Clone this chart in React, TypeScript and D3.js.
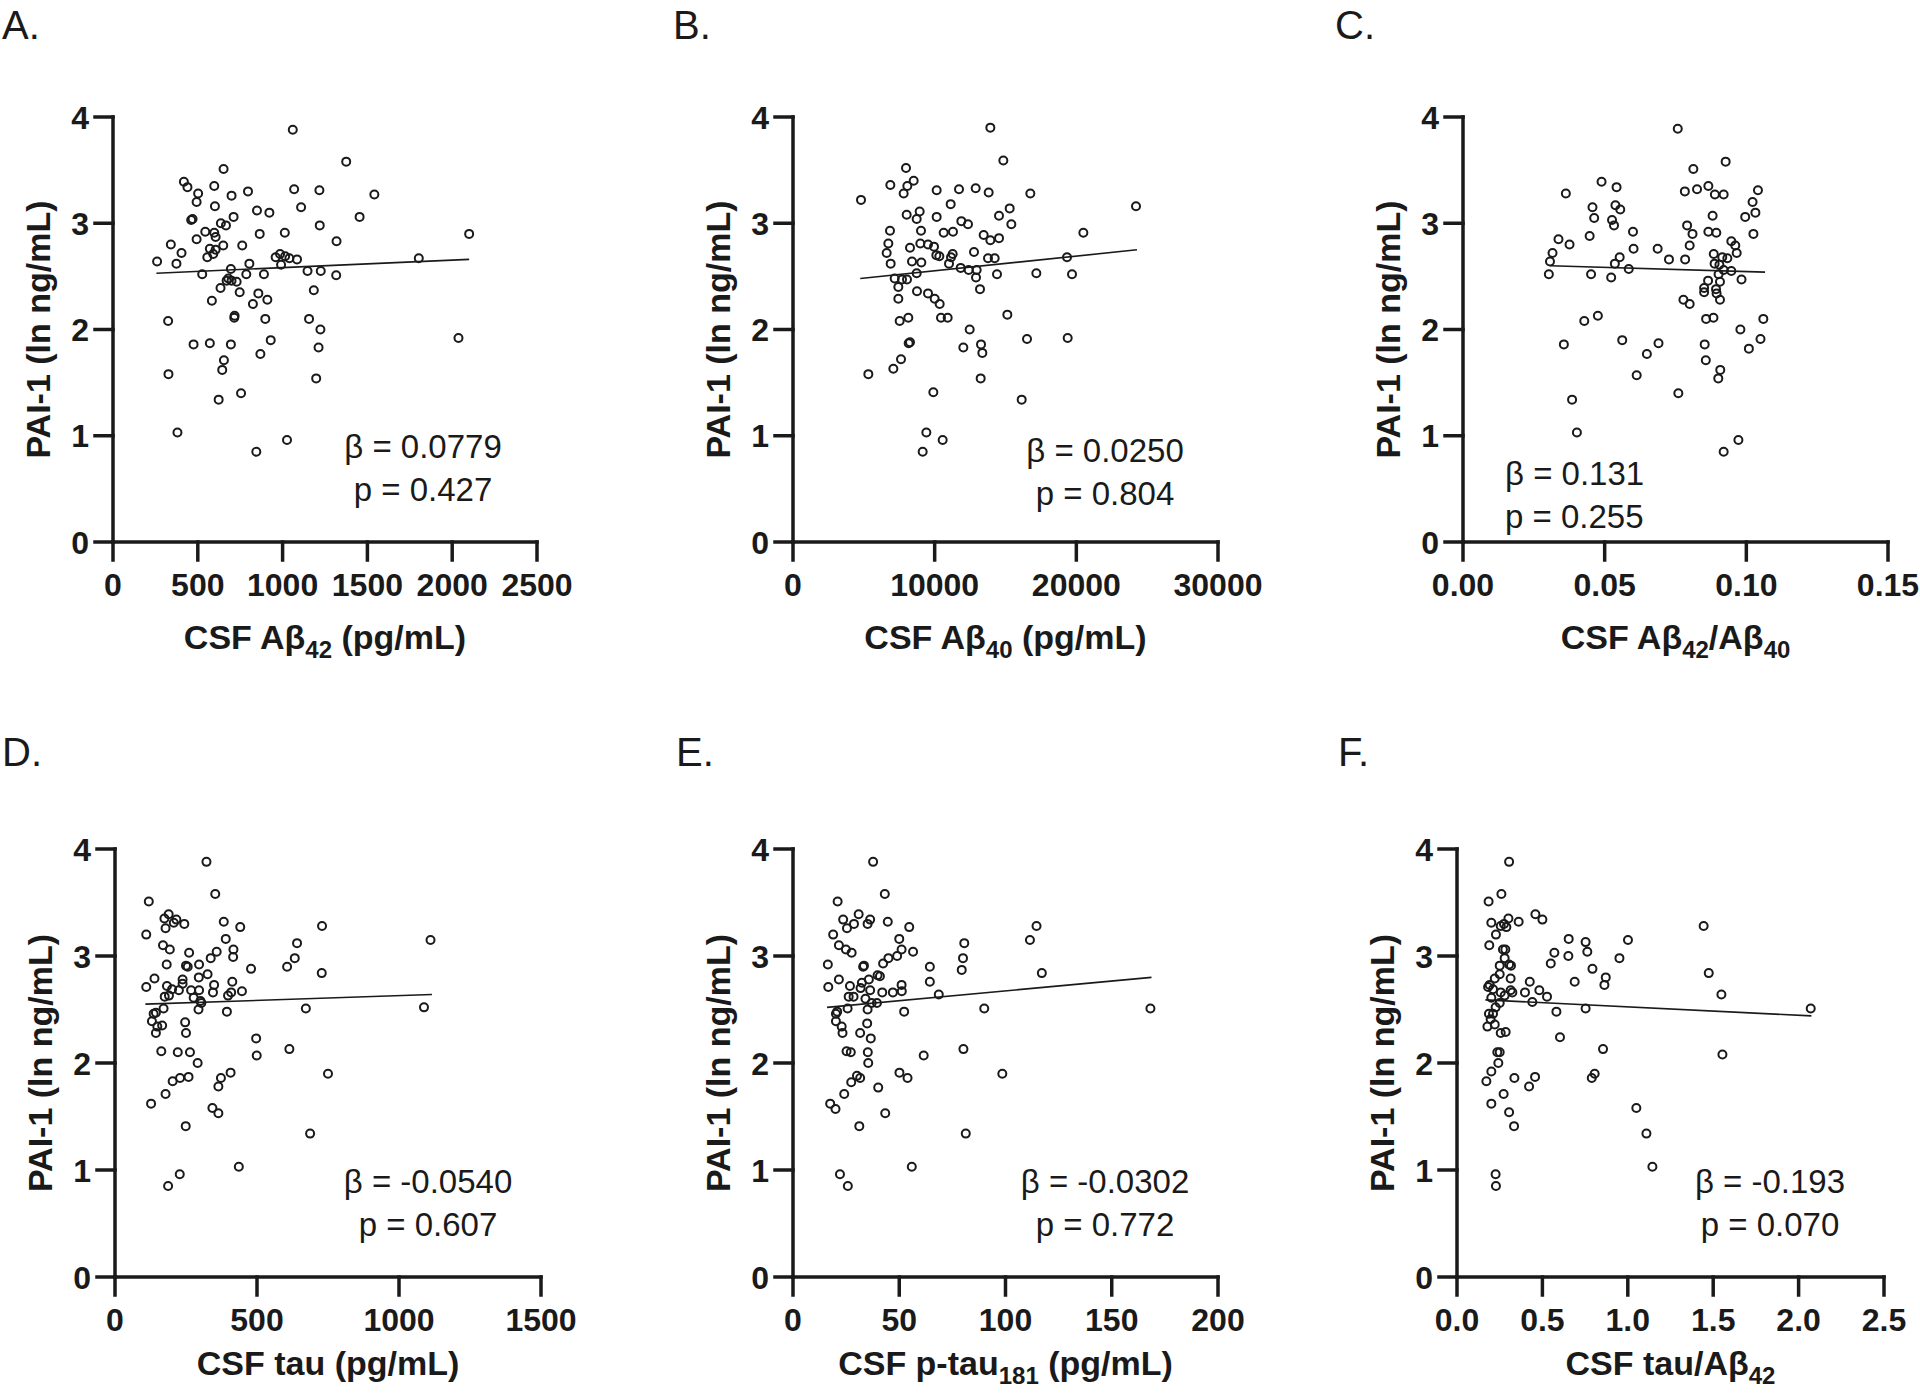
import React from 'react';
import * as d3 from 'd3';

const FONT = '"Liberation Sans", Arial, Helvetica, sans-serif';

// shared y axis: PAI-1 (ln ng/mL)
const pai1Ticks = [0, 1, 2, 3, 4];

// A. CSF Aβ42
const ab42Ticks = [0, 500, 1000, 1500, 2000, 2500];
const ab42X = [1060, 1375, 652, 418, 439, 597, 502, 796, 699, 1068,
  1217, 1541, 493, 601, 1109, 849, 922, 469, 461, 711,
  1454, 636, 666, 1219, 544, 597, 605, 865, 1013, 2100,
  493, 341, 571, 650, 762, 1318, 404, 605, 591, 556,
  959, 985, 1015, 1040, 1085, 1803, 260, 374, 804, 991,
  695, 526, 786, 890, 1147, 1225, 1316, 680, 699, 729,
  670, 634, 747, 857, 1184, 583, 910, 825, 325, 717,
  715, 898, 1156, 1223, 475, 571, 695, 930, 2037, 1212,
  869, 654, 644, 327, 1198, 755, 623, 380, 1026, 845];
const ab42Y = [3.88, 3.58, 3.51, 3.39, 3.34, 3.35, 3.28, 3.30, 3.26, 3.32,
  3.31, 3.27, 3.20, 3.16, 3.15, 3.12, 3.10, 3.04, 3.03, 3.06,
  3.06, 3.00, 2.98, 2.98, 2.92, 2.91, 2.87, 2.90, 2.91, 2.90,
  2.85, 2.80, 2.76, 2.79, 2.79, 2.83, 2.72, 2.75, 2.71, 2.68,
  2.68, 2.71, 2.69, 2.67, 2.66, 2.67, 2.64, 2.62, 2.62, 2.61,
  2.57, 2.52, 2.52, 2.52, 2.55, 2.55, 2.51, 2.48, 2.46, 2.45,
  2.46, 2.39, 2.35, 2.34, 2.37, 2.27, 2.28, 2.24, 2.08, 2.13,
  2.11, 2.10, 2.10, 2.00, 1.86, 1.87, 1.86, 1.90, 1.92, 1.83,
  1.77, 1.71, 1.62, 1.58, 1.54, 1.40, 1.34, 1.03, 0.96, 0.85];
const ab42Fit = [256, 2.53, 2100, 2.66];

// B. CSF Aβ40
const ab40Ticks = [0, 10000, 20000, 30000];
const ab40X = [13930, 14847, 7977, 8518, 6871, 8071, 7812, 10141, 11718, 12894,
  13812, 16753, 4800, 24212, 11130, 15295, 8941, 8024, 8730, 10141,
  14542, 11883, 12353, 15412, 6847, 9036, 10636, 11294, 20495, 13459,
  13930, 14542, 6730, 8988, 9530, 9953, 8259, 12777, 6612, 10118,
  10330, 11271, 11153, 8400, 9059, 6894, 11012, 13765, 14236, 19342,
  11836, 12400, 12965, 8730, 12918, 14400, 17177, 19695, 7177, 7694,
  8047, 7435, 13200, 8753, 9530, 10000, 10353, 7435, 15130, 8141,
  7530, 10447, 10918, 12471, 16518, 19389, 8165, 8259, 13271, 12024,
  13365, 7624, 7083, 5318, 13247, 9906, 16142, 9412, 10565, 9153];
const ab40Y = [3.90, 3.59, 3.52, 3.40, 3.36, 3.35, 3.28, 3.31, 3.32, 3.33,
  3.29, 3.28, 3.22, 3.16, 3.18, 3.14, 3.11, 3.08, 3.04, 3.06,
  3.07, 3.02, 2.99, 2.99, 2.93, 2.93, 2.91, 2.92, 2.91, 2.89,
  2.84, 2.86, 2.81, 2.81, 2.80, 2.78, 2.77, 2.73, 2.72, 2.70,
  2.69, 2.71, 2.68, 2.64, 2.63, 2.62, 2.62, 2.67, 2.67, 2.68,
  2.58, 2.56, 2.56, 2.53, 2.49, 2.52, 2.53, 2.52, 2.48, 2.47,
  2.47, 2.40, 2.38, 2.36, 2.34, 2.29, 2.24, 2.29, 2.14, 2.11,
  2.08, 2.11, 2.11, 2.00, 1.91, 1.92, 1.87, 1.88, 1.86, 1.83,
  1.78, 1.72, 1.63, 1.58, 1.54, 1.41, 1.34, 1.03, 0.96, 0.85];
const ab40Fit = [4750, 2.48, 24280, 2.75];

// C. CSF Aβ42/Aβ40
const ratioTicks = [0, 0.05, 0.1, 0.15];
const ratioX = [0.0758, 0.0927, 0.0813, 0.0489, 0.0542, 0.0363, 0.0783, 0.0826, 0.0866, 0.0889,
  0.0920, 0.1041, 0.1022, 0.0457, 0.0538, 0.0555, 0.1032, 0.0881, 0.0996, 0.0463,
  0.0526, 0.0533, 0.0791, 0.0600, 0.0866, 0.0894, 0.0810, 0.1025, 0.0447, 0.0337,
  0.0376, 0.0800, 0.0947, 0.0961, 0.0602, 0.0687, 0.0316, 0.0966, 0.0885, 0.0553,
  0.0727, 0.0784, 0.0915, 0.0933, 0.0307, 0.0536, 0.0888, 0.0905, 0.0585, 0.0920,
  0.0947, 0.0303, 0.0452, 0.0523, 0.0902, 0.0983, 0.0865, 0.0907, 0.0851, 0.0893,
  0.0851, 0.0895, 0.0907, 0.0778, 0.0800, 0.0476, 0.0428, 0.0858, 0.0884, 0.1060,
  0.0979, 0.0562, 0.0690, 0.0356, 0.0853, 0.1050, 0.1009, 0.0649, 0.0857, 0.0908,
  0.0901, 0.0613, 0.0760, 0.0385, 0.0402, 0.0972, 0.0920];
const ratioY = [3.89, 3.58, 3.51, 3.39, 3.34, 3.28, 3.30, 3.32, 3.35, 3.27,
  3.27, 3.31, 3.20, 3.15, 3.17, 3.13, 3.10, 3.07, 3.06, 3.05,
  3.03, 2.98, 2.98, 2.92, 2.92, 2.91, 2.90, 2.90, 2.88, 2.85,
  2.80, 2.79, 2.83, 2.79, 2.76, 2.76, 2.72, 2.72, 2.71, 2.68,
  2.66, 2.66, 2.68, 2.67, 2.64, 2.62, 2.62, 2.61, 2.57, 2.56,
  2.55, 2.52, 2.52, 2.49, 2.52, 2.47, 2.46, 2.45, 2.39, 2.38,
  2.35, 2.34, 2.28, 2.28, 2.24, 2.13, 2.08, 2.10, 2.11, 2.10,
  2.00, 1.90, 1.87, 1.86, 1.86, 1.91, 1.82, 1.77, 1.71, 1.62,
  1.54, 1.57, 1.40, 1.34, 1.03, 0.96, 0.85];
const ratioFit = [0.0308, 2.60, 0.1066, 2.54];

// D. CSF tau
const tauTicks = [0, 500, 1000, 1500];
const tauX = [322, 353, 119, 189, 174, 216, 207, 244, 178, 383,
  441, 729, 110, 390, 1111, 641, 169, 193, 417, 358,
  261, 416, 337, 633, 182, 250, 256, 296, 606, 479,
  326, 728, 295, 139, 238, 110, 183, 238, 349, 413,
  201, 225, 268, 296, 345, 447, 409, 398, 175, 190,
  277, 301, 304, 171, 294, 394, 672, 1088, 136, 144,
  130, 149, 166, 144, 247, 250, 497, 163, 221, 264,
  499, 614, 291, 407, 750, 203, 229, 259, 373, 364,
  178, 127, 343, 364, 249, 687, 436, 228, 187];
const tauY = [3.88, 3.58, 3.51, 3.39, 3.35, 3.34, 3.31, 3.30, 3.26, 3.32,
  3.27, 3.28, 3.20, 3.16, 3.15, 3.12, 3.10, 3.06, 3.06, 3.04,
  3.03, 2.99, 2.98, 2.98, 2.92, 2.91, 2.90, 2.92, 2.90, 2.88,
  2.83, 2.84, 2.80, 2.79, 2.78, 2.71, 2.72, 2.74, 2.73, 2.76,
  2.69, 2.68, 2.68, 2.68, 2.66, 2.67, 2.66, 2.63, 2.62, 2.63,
  2.61, 2.58, 2.56, 2.51, 2.50, 2.48, 2.51, 2.52, 2.46, 2.47,
  2.39, 2.34, 2.35, 2.28, 2.38, 2.28, 2.23, 2.11, 2.10, 2.10,
  2.07, 2.13, 2.00, 1.91, 1.90, 1.83, 1.86, 1.87, 1.86, 1.78,
  1.71, 1.62, 1.58, 1.53, 1.41, 1.34, 1.03, 0.96, 0.85];
const tauFit = [107, 2.55, 1116, 2.64];

// E. CSF p-tau181
const ptauTicks = [0, 50, 100, 150, 200];
const ptauX = [37.7, 43.2, 21.0, 30.9, 23.6, 28.7, 25.4, 35.1, 36.3, 44.6,
  54.7, 114.6, 18.9, 50.0, 111.5, 80.6, 21.6, 24.9, 27.6, 51.1,
  56.5, 44.9, 49.0, 80.0, 42.4, 16.4, 33.0, 33.4, 64.4, 79.4,
  39.8, 40.9, 117.1, 21.6, 35.7, 32.4, 64.4, 16.6, 26.8, 31.8,
  36.3, 51.1, 51.2, 47.0, 42.0, 68.6, 26.2, 28.5, 34.1, 37.0,
  39.5, 25.7, 35.1, 52.3, 90.0, 168.2, 20.2, 20.8, 20.2, 22.9,
  23.3, 34.9, 31.6, 36.6, 25.2, 27.2, 35.2, 61.5, 80.2, 35.4,
  50.1, 53.9, 98.5, 27.4, 30.1, 31.6, 40.1, 24.1, 17.5, 20.0,
  43.4, 31.2, 81.3, 55.9, 22.1, 25.8];
const ptauY = [3.88, 3.58, 3.51, 3.39, 3.34, 3.30, 3.26, 3.30, 3.34, 3.32,
  3.27, 3.28, 3.20, 3.16, 3.15, 3.12, 3.10, 3.06, 3.03, 3.06,
  3.04, 2.98, 3.00, 2.98, 2.93, 2.92, 2.90, 2.91, 2.90, 2.87,
  2.82, 2.81, 2.84, 2.78, 2.78, 2.75, 2.76, 2.71, 2.72, 2.70,
  2.68, 2.73, 2.67, 2.66, 2.66, 2.64, 2.62, 2.62, 2.60, 2.56,
  2.56, 2.51, 2.50, 2.48, 2.51, 2.51, 2.46, 2.48, 2.39, 2.34,
  2.28, 2.37, 2.28, 2.23, 2.11, 2.10, 2.10, 2.07, 2.13, 2.00,
  1.91, 1.86, 1.90, 1.82, 1.88, 1.86, 1.77, 1.71, 1.62, 1.57,
  1.53, 1.41, 1.34, 1.03, 0.96, 0.85];
const ptauFit = [16, 2.52, 168.7, 2.80];

// F. CSF tau/Aβ42
const tauRatioTicks = [0, 0.5, 1, 1.5, 2, 2.5];
const tauRatioX = [0.305, 0.260, 0.185, 0.459, 0.500, 0.201, 0.256, 0.275, 0.301, 0.361,
  0.289, 0.228, 1.444, 0.654, 0.753, 1.001, 0.189, 0.269, 0.283, 0.570,
  0.763, 0.652, 0.951, 0.279, 0.549, 0.250, 0.305, 0.316, 0.793, 1.474,
  0.250, 0.221, 0.314, 0.871, 0.191, 0.182, 0.426, 0.689, 0.863, 0.211,
  0.256, 0.314, 0.324, 0.398, 0.482, 0.527, 1.548, 0.279, 0.201, 0.441,
  0.250, 0.226, 0.753, 2.071, 0.582, 0.187, 0.211, 0.197, 0.221, 0.178,
  0.256, 0.285, 0.603, 0.855, 0.236, 0.250, 1.554, 0.242, 0.201, 0.172,
  0.336, 0.457, 0.422, 0.789, 0.806, 0.273, 0.201, 0.305, 1.050, 0.334,
  1.109, 1.144, 0.226, 0.228];
const tauRatioY = [3.88, 3.58, 3.51, 3.39, 3.34, 3.31, 3.28, 3.30, 3.35, 3.32,
  3.27, 3.20, 3.28, 3.16, 3.13, 3.15, 3.10, 3.06, 3.06, 3.03,
  3.04, 3.00, 2.98, 2.98, 2.93, 2.91, 2.92, 2.91, 2.88, 2.84,
  2.83, 2.79, 2.79, 2.80, 2.73, 2.71, 2.76, 2.76, 2.73, 2.69,
  2.66, 2.68, 2.66, 2.66, 2.68, 2.62, 2.64, 2.63, 2.61, 2.57,
  2.56, 2.52, 2.51, 2.51, 2.48, 2.46, 2.46, 2.41, 2.36, 2.34,
  2.28, 2.29, 2.24, 2.13, 2.10, 2.10, 2.08, 2.00, 1.92, 1.83,
  1.86, 1.87, 1.78, 1.86, 1.90, 1.71, 1.62, 1.54, 1.58, 1.41,
  1.34, 1.03, 0.96, 0.85];
const tauRatioFit = [0.166, 2.59, 2.075, 2.44];

type Piece = { t: string; sub?: boolean };

const panels = [
  {
    letter: 'A.', lx: 2, ly: 39, left: 113, right: 537, top: 117, bottom: 542, titleGap: 107,
    ticks: ab42Ticks, fmt: d3.format('d'), xs: ab42X, ys: ab42Y, fit: ab42Fit,
    title: [{ t: 'CSF Aβ' }, { t: '42', sub: true }, { t: ' (pg/mL)' }] as Piece[],
    stats: ['β = 0.0779', 'p = 0.427'], sx: 310, anchor: 'middle', sy: 341,
  },
  {
    letter: 'B.', lx: 673, ly: 39, left: 793, right: 1218, top: 117, bottom: 542, titleGap: 107,
    ticks: ab40Ticks, fmt: d3.format('d'), xs: ab40X, ys: ab40Y, fit: ab40Fit,
    title: [{ t: 'CSF Aβ' }, { t: '40', sub: true }, { t: ' (pg/mL)' }] as Piece[],
    stats: ['β = 0.0250', 'p = 0.804'], sx: 312, anchor: 'middle', sy: 345,
  },
  {
    letter: 'C.', lx: 1335, ly: 39, left: 1463, right: 1888, top: 117, bottom: 542, titleGap: 107,
    ticks: ratioTicks, fmt: d3.format('.2f'), xs: ratioX, ys: ratioY, fit: ratioFit,
    title: [{ t: 'CSF Aβ' }, { t: '42', sub: true }, { t: '/Aβ' }, { t: '40', sub: true }] as Piece[],
    stats: ['β = 0.131', 'p = 0.255'], sx: 42, anchor: 'start', sy: 368,
  },
  {
    letter: 'D.', lx: 2, ly: 766, left: 115, right: 541, top: 849, bottom: 1277, titleGap: 98,
    ticks: tauTicks, fmt: d3.format('d'), xs: tauX, ys: tauY, fit: tauFit,
    title: [{ t: 'CSF tau (pg/mL)' }] as Piece[],
    stats: ['β = -0.0540', 'p = 0.607'], sx: 313, anchor: 'middle', sy: 344,
  },
  {
    letter: 'E.', lx: 676, ly: 766, left: 793, right: 1218, top: 849, bottom: 1277, titleGap: 98,
    ticks: ptauTicks, fmt: d3.format('d'), xs: ptauX, ys: ptauY, fit: ptauFit,
    title: [{ t: 'CSF p-tau' }, { t: '181', sub: true }, { t: ' (pg/mL)' }] as Piece[],
    stats: ['β = -0.0302', 'p = 0.772'], sx: 312, anchor: 'middle', sy: 344,
  },
  {
    letter: 'F.', lx: 1338, ly: 766, left: 1457, right: 1884, top: 849, bottom: 1277, titleGap: 98,
    ticks: tauRatioTicks, fmt: d3.format('.1f'), xs: tauRatioX, ys: tauRatioY, fit: tauRatioFit,
    title: [{ t: 'CSF tau/Aβ' }, { t: '42', sub: true }] as Piece[],
    stats: ['β = -0.193', 'p = 0.070'], sx: 313, anchor: 'middle', sy: 344,
  },
];

const AXIS_W = 3.5;
const TICK = 18;

function Panel({ p }: { p: (typeof panels)[number] }) {
  const x = d3.scaleLinear()
    .domain([0, p.ticks[p.ticks.length - 1]])
    .range([p.left, p.right]);
  const y = d3.scaleLinear()
    .domain([0, 4])
    .range([p.bottom, p.top]);
  const fitLine = d3.line<[number, number]>()
    .x(d => x(d[0]))
    .y(d => y(d[1]));
  const midX = (p.left + p.right) / 2;
  const midY = (p.top + p.bottom) / 2;

  return (
    <g>
      <text x={p.lx} y={p.ly} fontSize={40} fontFamily={FONT} fill="#1a1a1a">{p.letter}</text>

      {/* axes */}
      <g stroke="#1a1a1a" strokeWidth={AXIS_W} strokeLinecap="square" fill="none">
        <line x1={p.left} x2={p.left} y1={p.top} y2={p.bottom} />
        <line x1={p.left} x2={p.right} y1={p.bottom} y2={p.bottom} />
        {pai1Ticks.map(t => (
          <line key={'yt' + t} x1={p.left - TICK} x2={p.left} y1={y(t)} y2={y(t)} />
        ))}
        {p.ticks.map(t => (
          <line key={'xt' + t} x1={x(t)} x2={x(t)} y1={p.bottom} y2={p.bottom + TICK} />
        ))}
      </g>

      <g fontFamily={FONT} fontWeight="bold" fontSize={32} fill="#1a1a1a">
        {pai1Ticks.map(t => (
          <text key={'yl' + t} x={p.left - 24} y={y(t)} dy="0.36em" textAnchor="end">{t}</text>
        ))}
        {p.ticks.map(t => (
          <text key={'xl' + t} x={x(t)} y={p.bottom + 54} textAnchor="middle">{p.fmt(t)}</text>
        ))}
      </g>

      {/* axis titles */}
      <text
        x={p.left - 63}
        y={midY}
        transform={`rotate(-90 ${p.left - 63} ${midY})`}
        textAnchor="middle"
        fontFamily={FONT}
        fontWeight="bold"
        fontSize={34}
        fill="#1a1a1a"
      >
        PAI-1 (ln ng/mL)
      </text>
      <text x={midX} y={p.bottom + p.titleGap} textAnchor="middle" fontFamily={FONT} fontWeight="bold" fontSize={34} fill="#1a1a1a">
        {p.title.map((s, i) => {
          const prevSub = i > 0 && p.title[i - 1].sub;
          const dy = s.sub ? 9 : prevSub ? -9 : 0;
          return (
            <tspan key={i} dy={dy} fontSize={s.sub ? 24 : 34}>{s.t}</tspan>
          );
        })}
      </text>

      {/* regression line */}
      <path
        d={fitLine([[p.fit[0], p.fit[1]], [p.fit[2], p.fit[3]]]) || ''}
        stroke="#1a1a1a"
        strokeWidth={1.6}
        fill="none"
      />

      {/* points */}
      <g fill="none" stroke="#1a1a1a" strokeWidth={2}>
        {p.xs.map((v, i) => (
          <circle key={i} cx={x(v)} cy={y(p.ys[i])} r={4} />
        ))}
      </g>

      {/* stats */}
      <g fontFamily={FONT} fontSize={33} fill="#1a1a1a" textAnchor={p.anchor}>
        <text x={p.left + p.sx} y={p.top + p.sy}>{p.stats[0]}</text>
        <text x={p.left + p.sx} y={p.top + p.sy + 43}>{p.stats[1]}</text>
      </g>
    </g>
  );
}

export default function App() {
  return (
    <svg
      width={1920}
      height={1395}
      viewBox="0 0 1920 1395"
      style={{ position: 'absolute', left: 0, top: 0, background: '#fff' }}
    >
      <rect width={1920} height={1395} fill="#fff" />
      {panels.map(p => (
        <Panel key={p.letter} p={p} />
      ))}
    </svg>
  );
}
